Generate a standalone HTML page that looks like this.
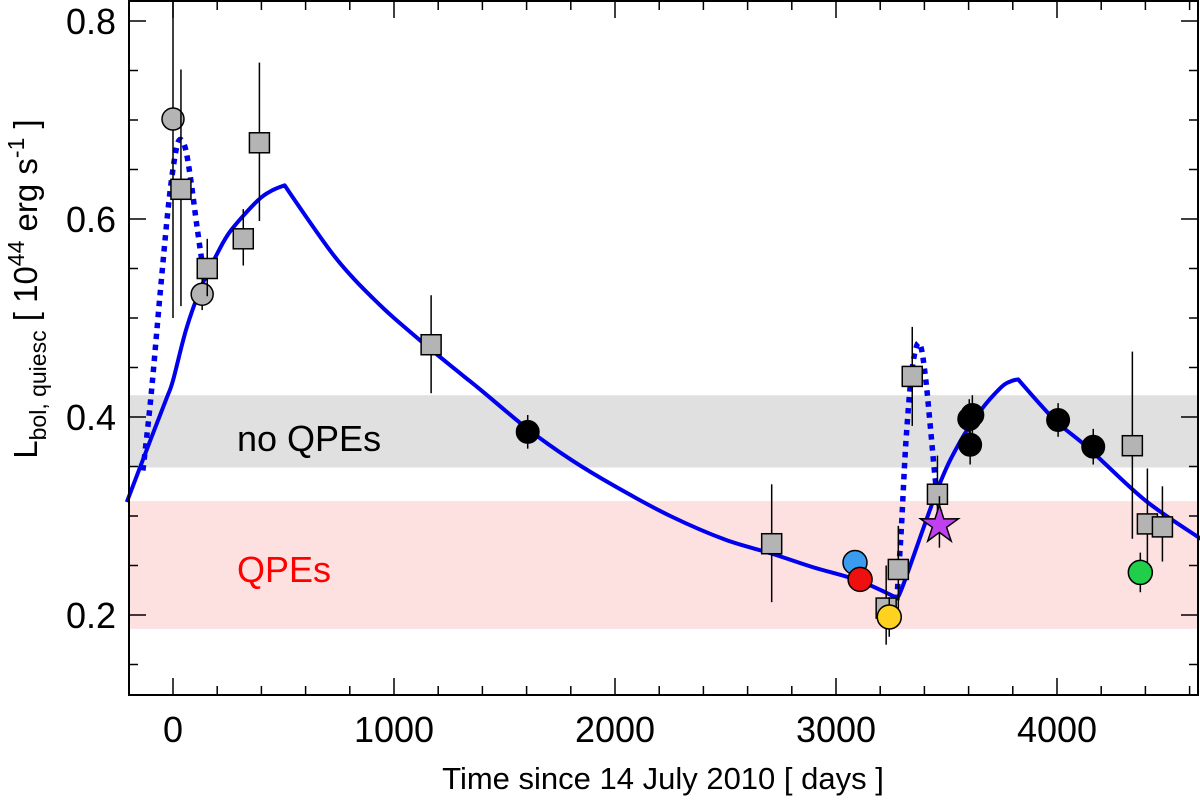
<!DOCTYPE html>
<html><head><meta charset="utf-8"><style>
html,body{margin:0;padding:0;background:#fff;}
svg{display:block;font-family:"Liberation Sans",Arial,sans-serif;}
</style></head><body>
<svg id="chart" width="1200" height="800" viewBox="0 0 1200 800">
<g id="bands"></g>
<g id="labels"></g>
<g id="curves"></g>
<g id="points"></g>
<g id="axes"></g>
</svg>
<script>
const sqDays=[36,155,318,391,1168,2709,3227,3282,3345,3459,4341,4409,4477];
const sqVals=[0.630,0.550,0.580,0.677,0.473,0.272,0.207,0.246,0.441,0.322,0.371,0.292,0.289];
const sqLo=[0.512,0.522,0.553,0.598,0.424,0.213,0.170,0.195,0.391,0.283,0.277,0.234,0.254];
const sqHi=[0.751,0.580,0.610,0.758,0.523,0.332,0.250,0.290,0.491,0.361,0.466,0.348,0.330];
const grayDays=[0,132];
const grayVals=[0.701,0.524];
const grayLo=[0.500,0.508];
const grayHi=[0.820,0.545];
const blackDays=[1605,3603,3617,3607,4005,4164];
const blackVals=[0.385,0.398,0.402,0.372,0.397,0.370];
const blackErr=[0.017,0.02,0.02,0.02,0.017,0.018];
const colDays=[3086,3109,3241,4377];
const colVals=[0.253,0.236,0.198,0.243];
const colErr=[0.006,0.006,0.02,0.02];
const colColors=["#3a9cf0","#f00f0f","#ffd21f","#1fcf4a"];
const starDay=3468, starVal=0.294, starErr=0.026;
// segments of the solid model (split at cusps)
const seg1Days=[-209,-100,-27,0,59,127,200,264,385,450,505];
const seg1Vals=[0.314,0.378,0.420,0.437,0.488,0.531,0.565,0.589,0.619,0.629,0.634];
const seg2Days=[505,600,718,800,900,1000,1168,1300,1400,1605,1800,2000,2250,2500,2709,2900,3100,3270];
const seg2Vals=[0.634,0.603,0.566,0.544,0.521,0.500,0.468,0.444,0.426,0.388,0.357,0.330,0.300,0.276,0.262,0.248,0.235,0.218];
const seg3Days=[3270,3300,3463,3559,3656,3747,3790,3824];
const seg3Vals=[0.218,0.228,0.329,0.374,0.407,0.430,0.436,0.438];
const seg4Days=[3824,3990,4140,4398,4650];
const seg4Vals=[0.438,0.397,0.369,0.316,0.277];
const dot1Days=[-136,-100,-60,-20,10,30,55,80,110,140,160];
const dot1Vals=[0.346,0.420,0.520,0.615,0.665,0.680,0.672,0.640,0.590,0.545,0.527];
const dot2Days=[3275,3295,3315,3340,3365,3385,3405,3425,3450,3470];
const dot2Vals=[0.215,0.285,0.370,0.440,0.472,0.470,0.440,0.395,0.335,0.305];
const xTicks=[0,1000,2000,3000,4000];
const yTicks=[0.2,0.4,0.6,0.8];

const L=129,R=1198,T=1,B=695;
const X=d=>173+d*0.221;
const Y=v=>21+(0.8-v)*990;
const NS="http://www.w3.org/2000/svg";
function mk(parent,tag,attrs){const e=document.createElementNS(NS,tag);for(const k in attrs)e.setAttribute(k,attrs[k]);document.getElementById(parent).appendChild(e);return e;}

let e;
e=mk('bands','rect',{x:L,y:Y(0.422),width:R-L,height:Y(0.349)-Y(0.422),fill:'#e0e0e0'});


e=mk('bands','rect',{x:L,y:Y(0.315),width:R-L,height:Y(0.186)-Y(0.315),fill:'#fde0e0'});


e=mk('labels','text',{x:237,y:451,'font-size':36,fill:'#000'});e.textContent='no QPEs';


e=mk('labels','text',{x:237,y:582,'font-size':36,fill:'#f00'});e.textContent='QPEs';



function spline(ds,vs){const p=ds.map((d,i)=>[X(d),Y(vs[i])]);let s='M'+p[0][0].toFixed(1)+','+p[0][1].toFixed(1);
 for(let i=0;i<p.length-1;i++){const p0=p[Math.max(0,i-1)],p1=p[i],p2=p[i+1],p3=p[Math.min(p.length-1,i+2)];
  const c1=[p1[0]+(p2[0]-p0[0])/6,p1[1]+(p2[1]-p0[1])/6],c2=[p2[0]-(p3[0]-p1[0])/6,p2[1]-(p3[1]-p1[1])/6];
  s+=' C'+c1.map(n=>n.toFixed(1)).join(',')+' '+c2.map(n=>n.toFixed(1)).join(',')+' '+p2.map(n=>n.toFixed(1)).join(',');}
 return s;}
e=mk('curves','path',{d:spline(dot1Days,dot1Vals),fill:'none',stroke:'#0000ee','stroke-width':5.5,'stroke-dasharray':'5.5,5.5'});


e=mk('curves','path',{d:spline(dot2Days,dot2Vals),fill:'none',stroke:'#0000ee','stroke-width':5.5,'stroke-dasharray':'5.5,5.5'});


e=mk('curves','path',{d:spline(seg1Days,seg1Vals)+' '+spline(seg2Days,seg2Vals).replace('M','L')+' '+spline(seg3Days,seg3Vals).replace('M','L')+' '+spline(seg4Days,seg4Vals).replace('M','L'),fill:'none',stroke:'#0000ee','stroke-width':4,'stroke-linejoin':'round'});



function err(x,lo,hi){const l=mk('points','line',{x1:x,x2:x,y1:Y(hi),y2:Y(lo),stroke:'#000','stroke-width':1.5});

}
grayDays.forEach((d,i)=>{err(X(d),grayLo[i],grayHi[i]);
 const c=mk('points','circle',{cx:X(d),cy:Y(grayVals[i]),r:11,fill:'#b4b4b4',stroke:'#000','stroke-width':1.5});
 
 });
sqDays.forEach((d,i)=>{err(X(d),sqLo[i],sqHi[i]);
 const s=mk('points','rect',{x:X(d)-10,y:Y(sqVals[i])-10,width:20,height:20,fill:'#b4b4b4',stroke:'#000','stroke-width':1.5});
 
 });
blackDays.forEach((d,i)=>{err(X(d),blackVals[i]-blackErr[i],blackVals[i]+blackErr[i]);
 const c=mk('points','circle',{cx:X(d),cy:Y(blackVals[i]),r:11.5,fill:'#000',stroke:'#000','stroke-width':1});
 
 });
colDays.forEach((d,i)=>{err(X(d),colVals[i]-colErr[i],colVals[i]+colErr[i]);
 const c=mk('points','circle',{cx:X(d),cy:Y(colVals[i]),r:12,fill:colColors[i],stroke:'#000','stroke-width':1.5});
 
 });
(function(){const cx=X(starDay),cy=Y(starVal);err(cx,starVal-starErr,starVal+starErr);
 let pts=[];for(let k=0;k<10;k++){const r=k%2?7.5:20,a=-Math.PI/2+k*Math.PI/5;pts.push((cx+r*Math.cos(a)).toFixed(1)+','+(cy+3+r*Math.sin(a)).toFixed(1));}
 const s=mk('points','polygon',{points:pts.join(' '),fill:'#c040f0',stroke:'#000','stroke-width':1.5});
 
 })();

e=mk('axes','rect',{x:L,y:T,width:R-L,height:B-T,fill:'none',stroke:'#000','stroke-width':2});


for(let d=-200;d<=4600;d+=200){const x=X(d);if(x<L+1||x>R-1)continue;const len=d%1000===0?17:9;
 mk('axes','line',{x1:x,x2:x,y1:B,y2:B-len,stroke:'#000','stroke-width':1.5});
 mk('axes','line',{x1:x,x2:x,y1:T,y2:T+len,stroke:'#000','stroke-width':1.5});}
for(let v=0.15;v<=0.8001;v+=0.05){const y=Y(v);const major=Math.abs(v*10-Math.round(v*10))<0.01&&Math.round(v*10)%2===0;const len=major?17:9;
 mk('axes','line',{x1:L,x2:L+len,y1:y,y2:y,stroke:'#000','stroke-width':1.5});
 mk('axes','line',{x1:R,x2:R-len,y1:y,y2:y,stroke:'#000','stroke-width':1.5});}
xTicks.forEach(t=>{const tx=mk('axes','text',{x:X(t),y:742,'font-size':36,'text-anchor':'middle'});tx.textContent=String(t);
 
 });
yTicks.forEach(t=>{const tx=mk('axes','text',{x:116,y:Y(t)+13,'font-size':36,'text-anchor':'end'});tx.textContent=t.toFixed(1);
 
 });
e=mk('axes','text',{x:663,y:789,'font-size':31,'text-anchor':'middle'});e.textContent='Time since 14 July 2010 [ days ]';


e=mk('axes','text',{transform:'translate(37,289) rotate(-90)','font-size':33,'text-anchor':'middle'});
e.innerHTML='L<tspan font-size="23" dy="9">bol, quiesc</tspan><tspan dy="-9"> [ 10</tspan><tspan font-size="23" dy="-13">44</tspan><tspan dy="13"> erg s</tspan><tspan font-size="23" dy="-13">-1</tspan><tspan dy="13"> ]</tspan>';


</script>
</body></html>
